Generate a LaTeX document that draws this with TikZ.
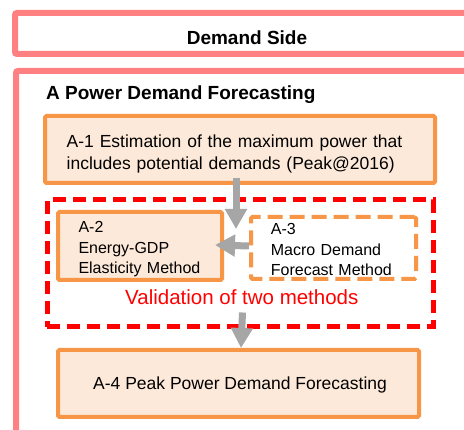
\documentclass[tikz,border=0pt]{standalone}
\usepackage{fontspec}
\setmainfont{Liberation Sans}
\usetikzlibrary{arrows.meta}
\definecolor{pinkline}{HTML}{FF8080}
\definecolor{orangeline}{HTML}{F79646}
\definecolor{peach}{HTML}{FDE9D9}
\definecolor{redline}{HTML}{FF0000}
\definecolor{arrowgray}{HTML}{A6A6A6}
\tikzset{
  outerbox/.style={draw=pinkline, line width=6pt, rounded corners=2pt, fill=white},
  solidbox/.style={draw=orangeline, line width=4pt, fill=peach, rounded corners=1.5pt, inner sep=0pt},
  dashbox/.style={draw=orangeline, line width=4pt, dash pattern=on 15pt off 7pt, fill=white, rounded corners=1.5pt, inner sep=0pt},
  redbox/.style={draw=redline, line width=5pt, dash pattern=on 13pt off 7pt, inner sep=0pt},
  bigarrow/.style={draw=arrowgray, line width=7pt, -{Triangle[width=21pt,length=20pt]}},
  headtext/.style={font=\bfseries\fontsize{19}{22}\selectfont, inner sep=0pt},
  bodytext/.style={font=\fontsize{17.5}{22}\selectfont, align=left, inner sep=0pt, anchor=base west, text width=360pt},
  smalltext/.style={font=\fontsize{16}{20.4}\selectfont, align=left, inner sep=0pt, anchor=base west, text width=150pt},
}
\begin{document}
\begin{tikzpicture}[x=1pt,y=-1pt]
\clip (0,0) rectangle (464,430);
\fill[white] (0,0) rectangle (464,430);
% top box
\node[outerbox, minimum width=464pt, minimum height=41pt] (demand) at (247,33.5) {};
\node[headtext, anchor=base] (demandtxt) at (247,44.5) {Demand Side};
% main box
\node[outerbox, minimum width=480pt, minimum height=400pt, anchor=north west] (main) at (13,68) {};
\node[headtext, anchor=base west] (title) at (46,99.5) {A Power Demand Forecasting};
% A-1
\node[solidbox, minimum width=390pt, minimum height=67pt] (a1) at (240,149.5) {};
\node[bodytext] (a1txt) at (66.5,147.3)
  {A-1 Estimation of the maximum power that\\includes potential demands (Peak@2016)};
% red validation box
\node[redbox, minimum width=386pt, minimum height=127pt] (val) at (240,263.5) {};
% A-2
\node[solidbox, minimum width=164pt, minimum height=68pt] (a2) at (140,246) {};
\node[smalltext] (a2txt) at (78.3,232.7) {A-2\\Energy-GDP\\Elasticity Method};
% A-3
\node[dashbox, minimum width=165pt, minimum height=62pt] (a3) at (333.5,248) {};
\node[smalltext] (a3txt) at (270.7,235) {A-3\\Macro Demand\\Forecast Method};
\node[text=redline, font=\fontsize{20.5}{24}\selectfont, inner sep=0pt, anchor=base west] (valtxt) at (125,305) {Validation of two methods};
% A-4
\node[solidbox, minimum width=361pt, minimum height=67pt] (a4) at (238.5,383.5) {};
\node[font=\fontsize{17.5}{22}\selectfont, inner sep=0pt, anchor=base west] (a4txt) at (93,389.3)
  {A-4 Peak Power Demand Forecasting};
% arrows
\draw[bigarrow] ([xshift=-4pt,yshift=7pt]a1.south) -- ([xshift=-4pt,yshift=-44pt]a1.south);
\draw[bigarrow] ([yshift=2pt]a3.west) -- ([xshift=-9pt,yshift=1pt]a2.east);
\draw[bigarrow] ([xshift=2.5pt,yshift=17pt]val.south) -- ([xshift=2.5pt]a4.north);
\end{tikzpicture}
\end{document}
